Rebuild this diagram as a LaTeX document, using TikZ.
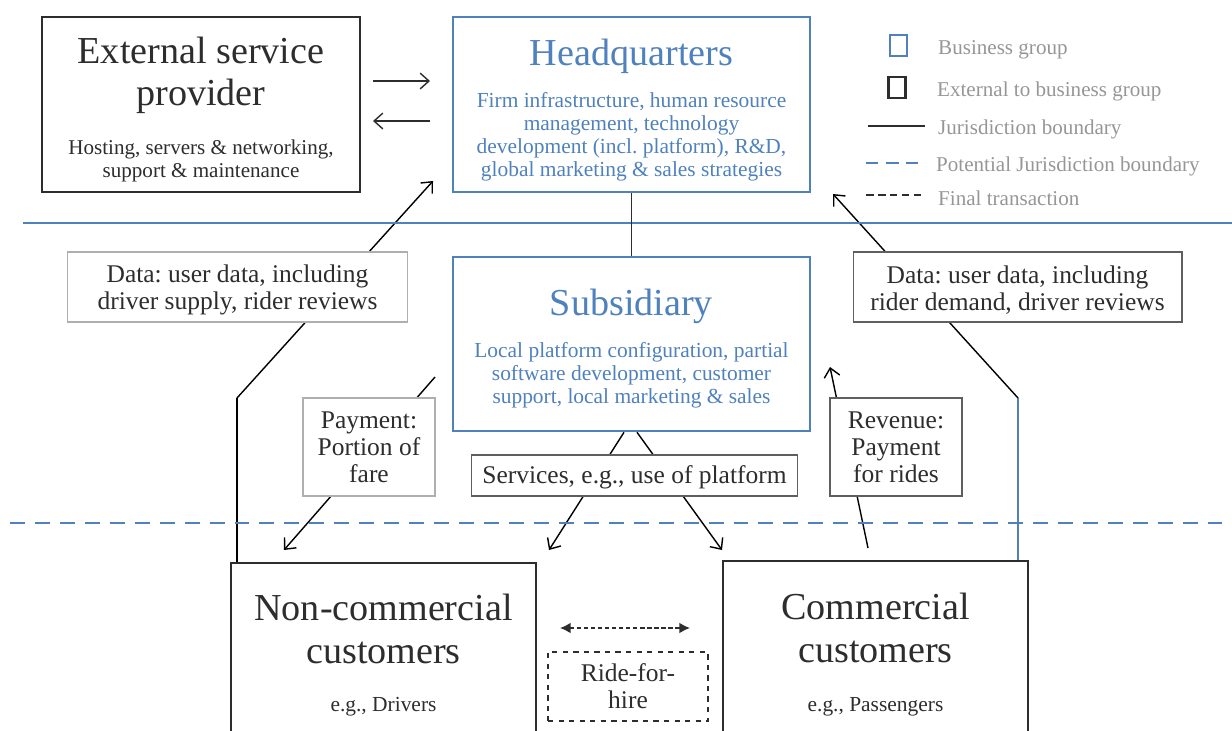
\documentclass[tikz,border=0pt]{standalone}
\usepackage{fontspec}
\setmainfont{Liberation Serif}
\usetikzlibrary{positioning,backgrounds,calc,arrows.meta}
\definecolor{bgblue}{RGB}{79,129,189}
\definecolor{ink}{RGB}{45,45,45}
\definecolor{legendgray}{RGB}{150,150,150}
\definecolor{boxgray}{RGB}{175,175,175}
\definecolor{boxdark}{RGB}{95,95,95}
\frenchspacing
\begin{document}
\begin{tikzpicture}[x=0.02cm, y=-0.02cm, ink,
    groupbox/.style = {draw=bgblue, line width=1.5pt, minimum width=7.14cm, minimum height=3.5cm},
    extbox/.style = {draw=ink, line width=1.5pt},
    title/.style = {font=\fontsize{21.7}{24}\selectfont, align=center},
    descr/.style = {font=\fontsize{12.2}{13.1}\selectfont, align=center},
    flowlbl/.style = {draw=boxgray, line width=0.6pt, fill=white, inner sep=0pt,
                      font=\fontsize{14.5}{15.4}\selectfont, align=center},
    flow/.style = {-{Straight Barb[length=5pt,width=9pt]}, line width=0.8pt},
    legtxt/.style = {text=legendgray, anchor=west, font=\fontsize{12}{14}\selectfont}]
    \useasboundingbox (0,0) rectangle (1232,731);

    % Disegna i riquadri principali
    \node[extbox, minimum width=6.36cm, minimum height=3.5cm] (ext) at (201,104.5) {};
    \node[title] (ext-t) at (201,75) {External service\\provider};
    \node[descr, font=\fontsize{12}{13.1}\selectfont] (ext-d) at (201,160.5) {Hosting, servers \& networking,\\support \& maintenance};

    \node[groupbox] (hq) at (631.5,104.5) {};
    \node[title, text=bgblue] (hq-t) at (631.5,56) {Headquarters};
    \node[descr, text=bgblue] (hq-d) at (631.5,136.5) {Firm infrastructure, human resource\\management, technology\\development (incl. platform), R\&D,\\global marketing \& sales strategies};

    \node[groupbox, minimum height=3.48cm] (sub) at (631.5,344) {};
    \node[title, text=bgblue] (sub-t) at (631.5,306) {Subsidiary};
    \node[descr, text=bgblue] (sub-d) at (631.5,375) {Local platform configuration, partial\\software development, customer\\support, local marketing \& sales};

    \node[extbox, minimum width=6.1cm, minimum height=4cm] (nc) at (383.5,663) {};
    \node[title] (nc-t) at (383.5,629) {Non-commercial\\customers};
    \node[descr] (nc-d) at (383.5,707) {e.g., Drivers};

    \node[extbox, minimum width=6.1cm, minimum height=4cm] (comm) at (875.5,661) {};
    \node[title] (comm-t) at (875.5,628) {Commercial\\customers};
    \node[descr] (comm-d) at (875.5,707) {e.g., Passengers};

    \node[flowlbl, draw=ink, line width=1pt, dashed, minimum width=3.2cm, minimum height=1.38cm] (ride) at (628,686.5) {Ride-for-\\hire};

    % Etichette dei flussi
    \node[flowlbl, minimum width=6.82cm, minimum height=1.4cm] (data-l) at (237.5,287) {\rule{0pt}{13.5pt}Data: user data, including\\driver supply, rider reviews};
    \node[flowlbl, draw=boxdark, minimum width=6.58cm, minimum height=1.4cm] (data-r) at (1017.5,287) {\rule{0pt}{13.5pt}Data: user data, including\\rider demand, driver reviews};
    \node[flowlbl, minimum width=2.64cm, minimum height=1.96cm] (pay) at (369,447) {Payment:\\Portion of\\fare};
    \node[flowlbl, draw=boxdark, minimum width=2.64cm, minimum height=1.96cm] (rev) at (896,447) {Revenue:\\Payment\\for rides};
    \node[flowlbl, draw=boxdark, minimum width=6.54cm, minimum height=0.82cm] (serv) at (634.5,475.5) {\rule{0pt}{12.5pt}Services, e.g., use of platform};

    % Confini di giurisdizione
    \draw[bgblue, line width=1.4pt] (23,223) -- (1232,223);
    \draw[bgblue, line width=1.4pt, dash pattern=on 8.5pt off 5.7pt] (10,523) -- (1232,523);

    % Punti liberi delle frecce
    \coordinate (dl-kink) at (237,398);
    \coordinate (dl-tip) at (433,181);
    \coordinate (dr-kink) at (1018,398);
    \coordinate (dr-tip) at (833,194);
    \coordinate (pay-a) at (435,377);
    \coordinate (pay-b) at (284,550);
    \coordinate (rev-a) at (868,548);
    \coordinate (rev-b) at (830,367);
    \coordinate (serv-l) at (549,550);
    \coordinate (serv-r) at (722,550);
    \coordinate (to-hq-a) at (373,81);
    \coordinate (to-hq-b) at (430,81);
    \coordinate (to-ext-a) at (430,121);
    \coordinate (to-ext-b) at (373,121);

    % Disegna gli archi orientati
    \begin{scope}[on background layer]
    \draw[line width=0.8pt] (dl-kink |- nc.north) -- (dl-kink);
    \draw[flow] (dl-kink) -- (dl-tip);
    \draw[bgblue, line width=0.8pt] (dr-kink |- comm.north) -- (dr-kink);
    \draw[flow] (dr-kink) -- (dr-tip);
    \draw[flow] (pay-a) -- (pay-b);
    \draw[flow] (rev-a) -- (rev-b);
    \draw[flow] ($(sub.south)+(-7.5,0)$) -- (serv-l);
    \draw[flow] ($(sub.south)+(5.5,0)$) -- (serv-r);
    \end{scope}
    \draw[line width=0.8pt] (hq) -- (sub);
    \draw[flow] (to-hq-a) -- (to-hq-b);
    \draw[flow] (to-ext-a) -- (to-ext-b);
    \draw[{Latex[length=6pt,width=6pt]}-{Latex[length=6pt,width=6pt]}, line width=0.8pt, dash pattern=on 2.5pt off 1.5pt] (560,628) -- (690,628);

    % Legenda
    \node[draw=bgblue, line width=1.4pt, minimum width=0.34cm, minimum height=0.42cm, inner sep=0pt] (leg-grp) at (898.5,45.5) {};
    \node[draw=ink, line width=1.4pt, minimum width=0.34cm, minimum height=0.42cm, inner sep=0pt] (leg-ext) at (897,87.5) {};
    \coordinate (leg-j-a) at (868,126);
    \coordinate (leg-j-b) at (925,126);
    \coordinate (leg-p-a) at (866,163);
    \coordinate (leg-p-b) at (918,163);
    \coordinate (leg-f-a) at (866,195);
    \coordinate (leg-f-b) at (922,195);
    \draw[line width=1.4pt] (leg-j-a) -- (leg-j-b);
    \draw[bgblue, line width=1.4pt, dash pattern=on 7pt off 4.5pt] (leg-p-a) -- (leg-p-b);
    \draw[line width=1.4pt, dash pattern=on 4.3pt off 2.5pt] (leg-f-a) -- (leg-f-b);
    \node[legtxt] (leg-grp-t) at (932,50) {Business group};
    \node[legtxt] (leg-ext-t) at (931,91) {External to business group};
    \node[legtxt] (leg-j-t) at (932,129) {Jurisdiction boundary};
    \node[legtxt] (leg-p-t) at (930,166) {Potential Jurisdiction boundary};
    \node[legtxt] (leg-f-t) at (932,198) {Final transaction};

\end{tikzpicture}
\end{document}
